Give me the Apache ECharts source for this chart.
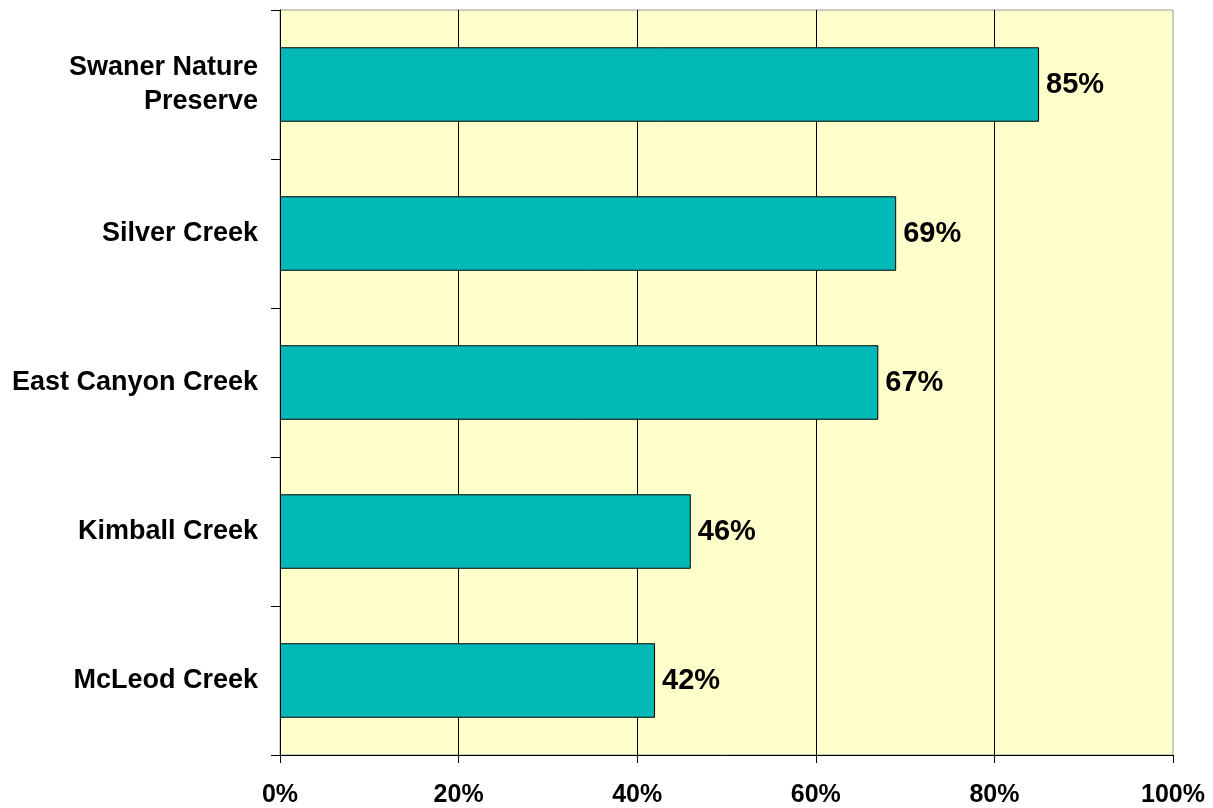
<!DOCTYPE html>
<html>
<head>
<meta charset="utf-8">
<script src="https://cdn.jsdelivr.net/npm/echarts@6/dist/echarts.min.js"></script>
<style>
html,body{margin:0;padding:0;background:#fff;}
#chart{width:1213px;height:808px;}
</style>
</head>
<body>
<div id="chart"></div>
<script>
const categories = ['Swaner Nature\nPreserve', 'Silver Creek', 'East Canyon Creek', 'Kimball Creek', 'McLeod Creek'];
const values = [85, 69, 67, 46, 42];
const xTicks = [0, 20, 40, 60, 80, 100];

const FONT = '"Liberation Sans", Arial, sans-serif';
const chart = echarts.init(document.getElementById('chart'), null, {renderer: 'canvas'});
chart.setOption({
  backgroundColor: '#ffffff',
  animation: false,
  grid: {
    left: 280, top: 10, right: 40, bottom: 50,
    show: true, backgroundColor: '#FFFFCC', borderColor: '#999999', borderWidth: 1
  },
  xAxis: {
    type: 'value',
    min: xTicks[0], max: xTicks[xTicks.length - 1], interval: 20,
    axisLine: {show: true, lineStyle: {color: '#000', width: 1}},
    axisTick: {show: true, length: 8, lineStyle: {color: '#000'}},
    splitLine: {show: true, showMinLine: false, showMaxLine: false, lineStyle: {color: '#000', width: 1}},
    axisLabel: {
      formatter: '{value}%', color: '#000', fontWeight: 'bold', fontSize: 25,
      fontFamily: FONT, margin: 28
    }
  },
  yAxis: {
    type: 'category',
    data: categories,
    inverse: true,
    axisLine: {show: true, lineStyle: {color: '#000', width: 1}},
    axisTick: {show: true, length: 9, inside: false, alignWithLabel: false, lineStyle: {color: '#000'}},
    axisLabel: {
      color: '#000', fontWeight: 'bold', fontSize: 27, fontFamily: FONT,
      margin: 22, align: 'right', lineHeight: 34
    }
  },
  series: [{
    type: 'bar',
    data: values,
    barWidth: '50%',
    itemStyle: {color: '#02B9B7', borderColor: '#000', borderWidth: 1},
    label: {
      show: true, position: 'right', distance: 7,
      formatter: '{c}%', color: '#000', fontWeight: 'bold', fontSize: 29, fontFamily: FONT
    }
  }]
});
</script>
</body>
</html>
